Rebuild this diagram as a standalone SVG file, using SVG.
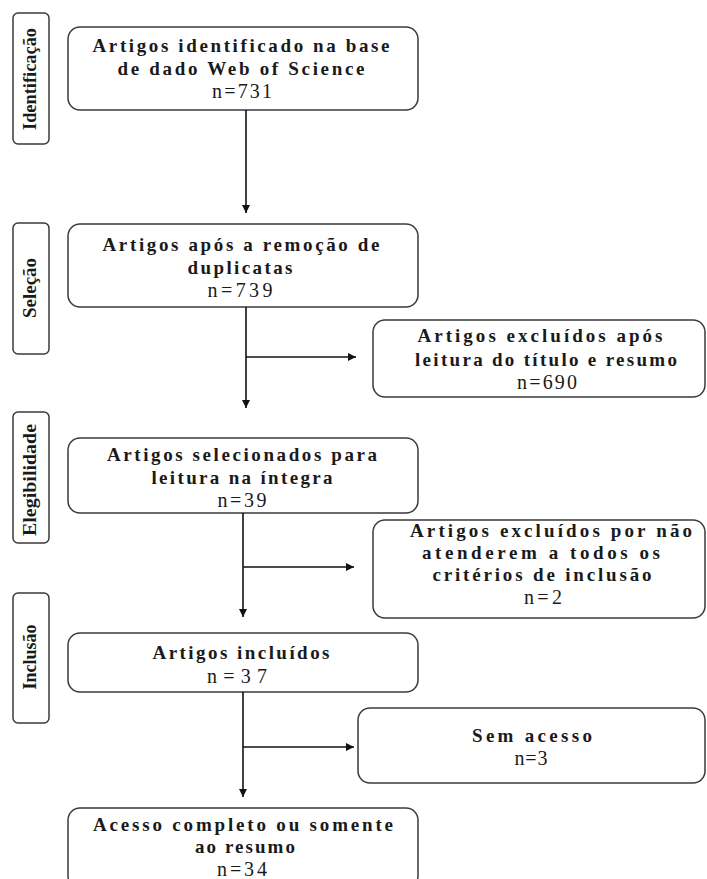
<svg xmlns="http://www.w3.org/2000/svg" width="707" height="879" viewBox="0 0 707 879">
<style>
.bx{fill:#fff;stroke:#3a3a3a;stroke-width:1.5}
.sb{fill:#fff;stroke:#3a3a3a;stroke-width:1.5}
.t{font-family:"Liberation Serif","Times New Roman",serif;font-weight:bold;font-size:19px;fill:#1a1a1a;text-anchor:middle}
.n{font-family:"Liberation Serif","Times New Roman",serif;font-size:20px;fill:#1a1a1a;text-anchor:middle}
.s{font-family:"Liberation Serif","Times New Roman",serif;font-weight:bold;font-size:19px;fill:#1a1a1a;text-anchor:middle}
.ln{stroke:#111;stroke-width:1.6;fill:none}
</style>
<defs>
<marker id="ah" viewBox="0 0 10 10" refX="10" refY="5" markerWidth="8" markerHeight="8" markerUnits="userSpaceOnUse" orient="auto">
<path d="M0,0 L10,5 L0,10 z" fill="#111"/>
</marker>
</defs>
<rect width="707" height="879" fill="#fff"/>

<g id="lbl-identificacao">
<rect class="sb" x="13" y="13" width="36" height="131" rx="5"/>
<text class="s" transform="translate(36,79) rotate(-90)" textLength="102" lengthAdjust="spacingAndGlyphs">Identificação</text>
</g>
<g id="lbl-selecao">
<rect class="sb" x="13" y="223" width="36" height="131" rx="5"/>
<text class="s" transform="translate(36,288) rotate(-90)" textLength="60" lengthAdjust="spacingAndGlyphs">Seleção</text>
</g>
<g id="lbl-elegibilidade">
<rect class="sb" x="13" y="412" width="36" height="131" rx="5"/>
<text class="s" transform="translate(36,480) rotate(-90)" textLength="112" lengthAdjust="spacingAndGlyphs">Elegibilidade</text>
</g>
<g id="lbl-inclusao">
<rect class="sb" x="13" y="593" width="36" height="130" rx="5"/>
<text class="s" transform="translate(36,657) rotate(-90)" textLength="65" lengthAdjust="spacingAndGlyphs">Inclusão</text>
</g>

<g id="n1">
<rect class="bx" x="68" y="27" width="350" height="83" rx="12"/>
<text class="t" x="241" y="52" textLength="297" lengthAdjust="spacing">Artigos identificado na base</text>
<text class="t" x="241" y="75" textLength="247" lengthAdjust="spacing">de dado Web of Science</text>
<text class="n" x="242" y="98" textLength="60" lengthAdjust="spacing">n=731</text>
</g>
<g id="n2">
<rect class="bx" x="68" y="224" width="350" height="83" rx="12"/>
<text class="t" x="241" y="251" textLength="277" lengthAdjust="spacing">Artigos após a remoção de</text>
<text class="t" x="240" y="274" textLength="105" lengthAdjust="spacing">duplicatas</text>
<text class="n" x="240" y="297" textLength="65" lengthAdjust="spacing">n=739</text>
</g>
<g id="n3">
<rect class="bx" x="373" y="320" width="332" height="77" rx="12"/>
<text class="t" x="540" y="342" textLength="245" lengthAdjust="spacing">Artigos excluídos após</text>
<text class="t" x="546" y="366" textLength="262" lengthAdjust="spacing">leitura do título e resumo</text>
<text class="n" x="547" y="389" textLength="60" lengthAdjust="spacing">n=690</text>
</g>
<g id="n4">
<rect class="bx" x="68" y="438" width="350" height="75" rx="12"/>
<text class="t" x="242" y="461" textLength="270" lengthAdjust="spacing">Artigos selecionados para</text>
<text class="t" x="242" y="484" textLength="181" lengthAdjust="spacing">leitura na íntegra</text>
<text class="n" x="242" y="507" textLength="49" lengthAdjust="spacing">n=39</text>
</g>
<g id="n5">
<rect class="bx" x="373" y="520" width="332" height="98" rx="12"/>
<text class="t" x="551" y="537" textLength="282" lengthAdjust="spacing">Artigos excluídos por não</text>
<text class="t" x="541" y="559" textLength="238" lengthAdjust="spacing">atenderem a todos os</text>
<text class="t" x="542" y="581" textLength="219" lengthAdjust="spacing">critérios de inclusão</text>
<text class="n" x="543" y="604" textLength="38" lengthAdjust="spacing">n=2</text>
</g>
<g id="n6">
<rect class="bx" x="68" y="633" width="350" height="59" rx="12"/>
<text class="t" x="241" y="659" textLength="177" lengthAdjust="spacing">Artigos incluídos</text>
<text class="n" x="237" y="683" textLength="60" lengthAdjust="spacing">n=37</text>
</g>
<g id="n7">
<rect class="bx" x="358" y="708" width="347" height="75" rx="12"/>
<text class="t" x="532" y="742" textLength="120" lengthAdjust="spacing">Sem acesso</text>
<text class="n" x="531" y="765" textLength="33" lengthAdjust="spacing">n=3</text>
</g>
<g id="n8">
<rect class="bx" x="68" y="808" width="350" height="80" rx="12"/>
<text class="t" x="243" y="831" textLength="300" lengthAdjust="spacing">Acesso completo ou somente</text>
<text class="t" x="245" y="853" textLength="100" lengthAdjust="spacing">ao resumo</text>
<text class="n" x="242" y="876" textLength="50" lengthAdjust="spacing">n=34</text>
</g>

<g id="connectors">
<line class="ln" x1="246" y1="110" x2="246" y2="213" marker-end="url(#ah)"/>
<line class="ln" x1="246" y1="307" x2="246" y2="408" marker-end="url(#ah)"/>
<line class="ln" x1="246" y1="357" x2="356" y2="357" marker-end="url(#ah)"/>
<line class="ln" x1="243" y1="513" x2="243" y2="617" marker-end="url(#ah)"/>
<line class="ln" x1="243" y1="567" x2="354" y2="567" marker-end="url(#ah)"/>
<line class="ln" x1="243" y1="692" x2="243" y2="797" marker-end="url(#ah)"/>
<line class="ln" x1="243" y1="747" x2="354" y2="747" marker-end="url(#ah)"/>
</g>
</svg>
